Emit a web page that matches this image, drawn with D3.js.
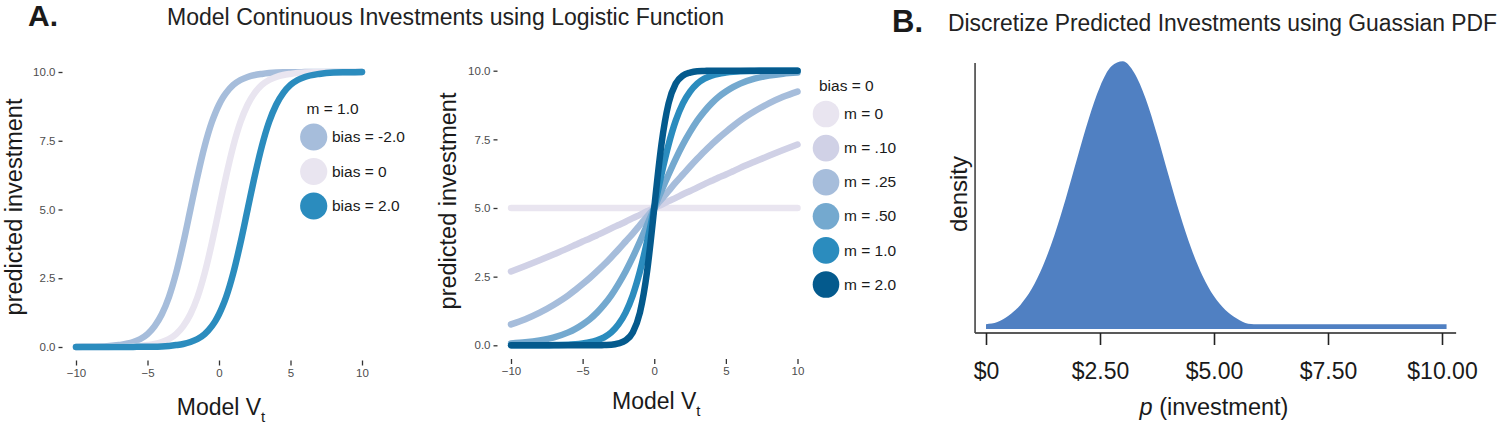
<!DOCTYPE html>
<html><head><meta charset="utf-8">
<script src="https://cdn.jsdelivr.net/npm/d3@7"></script>
<style>
body{margin:0;background:#fff}
svg{display:block}
text{font-family:"Liberation Sans",Arial,Helvetica,sans-serif}
</style>
</head><body>
<svg id="c" width="1500" height="424"></svg>
<script>
// ---------- DATA ----------
const xGrid = [-10,-9,-8,-7,-6,-5.5,-5,-4.5,-4,-3.5,-3,-2.5,-2,-1.5,-1,-0.5,-0.25,0,0.25,0.5,1,1.5,2,2.5,3,3.5,4,4.5,5,5.5,6,7,8,9,10];

// Panel A (left): m = 1.0, varying bias
const biasLabels = ["bias = -2.0", "bias = 0", "bias = 2.0"];
const biasColors = ["#a6bddb", "#e9e5f0", "#2b8cbe"];
const biasNeg2 = [0.00,0.01,0.02,0.07,0.18,0.29,0.47,0.76,1.19,1.82,2.69,3.78,5.00,6.22,7.31,8.18,8.52,8.81,9.05,9.24,9.53,9.71,9.82,9.89,9.93,9.96,9.98,9.99,9.99,9.99,10.00,10.00,10.00,10.00,10.00];
const bias0    = [0.00,0.00,0.00,0.01,0.02,0.04,0.07,0.11,0.18,0.29,0.47,0.76,1.19,1.82,2.69,3.78,4.38,5.00,5.62,6.22,7.31,8.18,8.81,9.24,9.53,9.71,9.82,9.89,9.93,9.96,9.98,9.99,10.00,10.00,10.00];
const biasPos2 = [0.00,0.00,0.00,0.00,0.00,0.01,0.01,0.01,0.02,0.04,0.07,0.11,0.18,0.29,0.47,0.76,0.95,1.19,1.48,1.82,2.69,3.78,5.00,6.22,7.31,8.18,8.81,9.24,9.53,9.71,9.82,9.93,9.98,9.99,10.00];

// Panel A (right): bias = 0, varying m
const slopeLabels = ["m = 0", "m = .10", "m = .25", "m = .50", "m = 1.0", "m = 2.0"];
const slopeColors = ["#e9e5f0", "#d0d1e6", "#a6bddb", "#74a9cf", "#2b8cbe", "#045a8d"];
const slope000 = [5,5,5,5,5,5,5,5,5,5,5,5,5,5,5,5,5,5,5,5,5,5,5,5,5,5,5,5,5,5,5,5,5,5,5];
const slope010 = [2.69,2.89,3.10,3.32,3.54,3.66,3.78,3.89,4.01,4.13,4.26,4.38,4.50,4.63,4.75,4.88,4.94,5.00,5.06,5.12,5.25,5.37,5.50,5.62,5.74,5.87,5.99,6.11,6.22,6.34,6.46,6.68,6.90,7.11,7.31];
const slope025 = [0.76,0.95,1.19,1.48,1.82,2.02,2.23,2.45,2.69,2.94,3.21,3.49,3.78,4.07,4.38,4.69,4.84,5.00,5.16,5.31,5.62,5.93,6.22,6.51,6.79,7.06,7.31,7.55,7.77,7.98,8.18,8.52,8.81,9.05,9.24];
const slope050 = [0.07,0.11,0.18,0.29,0.47,0.60,0.76,0.95,1.19,1.48,1.82,2.23,2.69,3.21,3.78,4.38,4.69,5.00,5.31,5.62,6.22,6.79,7.31,7.77,8.18,8.52,8.81,9.05,9.24,9.40,9.53,9.71,9.82,9.89,9.93];
const slope100 = [0.00,0.00,0.00,0.01,0.02,0.04,0.07,0.11,0.18,0.29,0.47,0.76,1.19,1.82,2.69,3.78,4.38,5.00,5.62,6.22,7.31,8.18,8.81,9.24,9.53,9.71,9.82,9.89,9.93,9.96,9.98,9.99,10.00,10.00,10.00];
const slope200 = [0,0,0,0,0,0,0,0,0.00,0.01,0.02,0.07,0.18,0.47,1.19,2.69,3.78,5.00,6.22,7.31,8.81,9.53,9.82,9.93,9.98,9.99,10,10,10,10,10,10,10,10,10];

const xTicksA = [-10, -5, 0, 5, 10];
const yTicksA = [0, 2.5, 5, 7.5, 10];

// Panel B: density of predicted investment (relative height)
const dollarGrid = [0,0.25,0.5,0.75,1,1.25,1.5,1.75,2,2.25,2.5,2.75,3,3.25,3.5,3.75,4,4.25,4.5,4.75,5,5.25,5.5,5.75,6,7,8,9,10,10.1];
const densityValues = [0.018,0.026,0.050,0.089,0.149,0.236,0.350,0.487,0.637,0.783,0.904,0.980,0.999,0.956,0.860,0.726,0.576,0.430,0.301,0.198,0.122,0.071,0.039,0.020,0.018,0.018,0.018,0.018,0.018,0.018];
const dollarTicks = [0, 2.5, 5, 7.5, 10];
const dollarTickLabels = ["$0", "$2.50", "$5.00", "$7.50", "$10.00"];

// ---------- DRAW ----------
const svg = d3.select("#c");
const FONT = '"Liberation Sans",Arial,Helvetica,sans-serif';

// Titles
svg.append("text").attr("x", 28).attr("y", 26).attr("font-size", 30).attr("font-weight", "bold")
  .attr("fill", "#1a1a1a").text("A.");
svg.append("text").attr("x", 167).attr("y", 25).attr("font-size", 23).attr("fill", "#222")
  .attr("textLength", 557).attr("lengthAdjust", "spacingAndGlyphs")
  .text("Model Continuous Investments using Logistic Function");
svg.append("text").attr("x", 892).attr("y", 32).attr("font-size", 31).attr("font-weight", "bold")
  .attr("fill", "#1a1a1a").text("B.");
svg.append("text").attr("x", 948).attr("y", 31).attr("font-size", 23).attr("fill", "#222")
  .attr("textLength", 549).attr("lengthAdjust", "spacingAndGlyphs")
  .text("Discretize Predicted Investments using Guassian PDF");

function logisticPanel(cfg) {
  const x = d3.scaleLinear().domain([-10, 10]).range(cfg.xr);
  const y = d3.scaleLinear().domain([0, 10]).range(cfg.yr);
  const g = svg.append("g");

  // axes (ticks only, no lines)
  const xa = g.append("g").attr("transform", `translate(0,${cfg.xAxisY})`)
    .call(d3.axisBottom(x).tickValues(xTicksA).tickFormat(d3.format("d")).tickSize(5).tickPadding(cfg.xPad));
  const ya = g.append("g").attr("transform", `translate(${cfg.yAxisX},0)`)
    .call(d3.axisLeft(y).tickValues(yTicksA).tickFormat(d3.format(".1f")).tickSize(4).tickPadding(3));
  [xa, ya].forEach(a => {
    a.select(".domain").remove();
    a.selectAll("line").attr("stroke", "#333").attr("stroke-width", 1.3);
    a.selectAll("text").attr("fill", "#4d4d4d").attr("font-size", 11.5).attr("font-family", FONT);
  });

  const line = d3.line().x((d, i) => x(xGrid[i])).y(d => y(d)).curve(d3.curveMonotoneX);
  cfg.series.forEach((s, i) => {
    g.append("path").attr("d", line(s)).attr("fill", "none")
      .attr("stroke", cfg.colors[i]).attr("stroke-width", 6.5)
      .attr("stroke-linecap", "round").attr("stroke-linejoin", "round");
  });

  // axis titles
  g.append("text").attr("transform", `translate(${cfg.yLabX},${cfg.yLabY}) rotate(-90)`)
    .attr("text-anchor", "middle").attr("font-size", 23.5).attr("fill", "#1a1a1a")
    .text("predicted investment");
  const xt = g.append("text").attr("x", x(0) + 2).attr("y", cfg.xLabY)
    .attr("text-anchor", "middle").attr("font-size", 23).attr("fill", "#1a1a1a");
  xt.append("tspan").text("Model V");
  xt.append("tspan").attr("dy", 7).attr("font-size", 15).text("t");

  // legend
  g.append("text").attr("x", cfg.legTitleX).attr("y", cfg.legTitleY).attr("font-size", 15.5)
    .attr("fill", "#1a1a1a").text(cfg.legTitle);
  cfg.labels.forEach((lab, i) => {
    const cy = cfg.legY0 + i * cfg.legStep;
    g.append("circle").attr("cx", cfg.legCX).attr("cy", cy).attr("r", cfg.legR).attr("fill", cfg.colors[i]);
    g.append("text").attr("x", cfg.legTX).attr("y", cy).attr("dy", "0.33em").attr("font-size", 15.5)
      .attr("fill", "#1a1a1a").text(lab);
  });
}

logisticPanel({
  xr: [76, 362], yr: [347, 72], xAxisY: 360.5, yAxisX: 62.5, xPad: 3.5,
  series: [biasNeg2, bias0, biasPos2], colors: biasColors, labels: biasLabels,
  yLabX: 22, yLabY: 207, xLabY: 415,
  legTitle: "m = 1.0", legTitleX: 306.5, legTitleY: 113.5,
  legCX: 313.7, legY0: 137, legStep: 34.5, legR: 13.6, legTX: 332
});

logisticPanel({
  xr: [511, 797.5], yr: [345.3, 70.7], xAxisY: 359, yAxisX: 497.5, xPad: 3,
  series: [slope000, slope010, slope025, slope050, slope100, slope200], colors: slopeColors, labels: slopeLabels,
  yLabX: 456, yLabY: 201, xLabY: 409,
  legTitle: "bias = 0", legTitleX: 819, legTitleY: 90.7,
  legCX: 826, legY0: 114, legStep: 34.1, legR: 13.3, legTX: 844
});

// Panel B
(function () {
  const x = d3.scaleLinear().domain([0, 10]).range([986, 1442]);
  const y = d3.scaleLinear().domain([0, 1]).range([329, 61]);
  const g = svg.append("g");
  const area = d3.area().x((d, i) => x(dollarGrid[i])).y0(y(0)).y1(d => y(d)).curve(d3.curveMonotoneX);
  g.append("path").attr("d", area(densityValues)).attr("fill", "#5080c2");

  const axisY = y(0) + 4;
  const xa = g.append("g").attr("transform", `translate(0,${axisY})`)
    .call(d3.axisBottom(x).tickValues(dollarTicks).tickFormat((d, i) => dollarTickLabels[i]).tickSize(12).tickPadding(18));
  xa.select(".domain").remove();
  xa.selectAll("line").attr("stroke", "#222").attr("stroke-width", 1.6);
  xa.selectAll("text").attr("fill", "#1a1a1a").attr("font-size", 23).attr("font-family", FONT);

  const left = x(-0.24), right = x(10.31);
  g.append("line").attr("x1", left).attr("x2", right).attr("y1", axisY).attr("y2", axisY)
    .attr("stroke", "#222").attr("stroke-width", 1.6);
  g.append("line").attr("x1", left).attr("x2", left).attr("y1", axisY).attr("y2", y(1) + 2)
    .attr("stroke", "#444").attr("stroke-width", 1.6);

  g.append("text").attr("transform", `translate(${left - 8},194) rotate(-90)`)
    .attr("text-anchor", "middle").attr("font-size", 24).attr("fill", "#1a1a1a").text("density");
  const xt = g.append("text").attr("x", x(5)).attr("y", 415).attr("text-anchor", "middle")
    .attr("font-size", 23.5).attr("fill", "#1a1a1a");
  xt.append("tspan").attr("font-style", "italic").text("p");
  xt.append("tspan").text(" (investment)");
})();
</script>
</body></html>
